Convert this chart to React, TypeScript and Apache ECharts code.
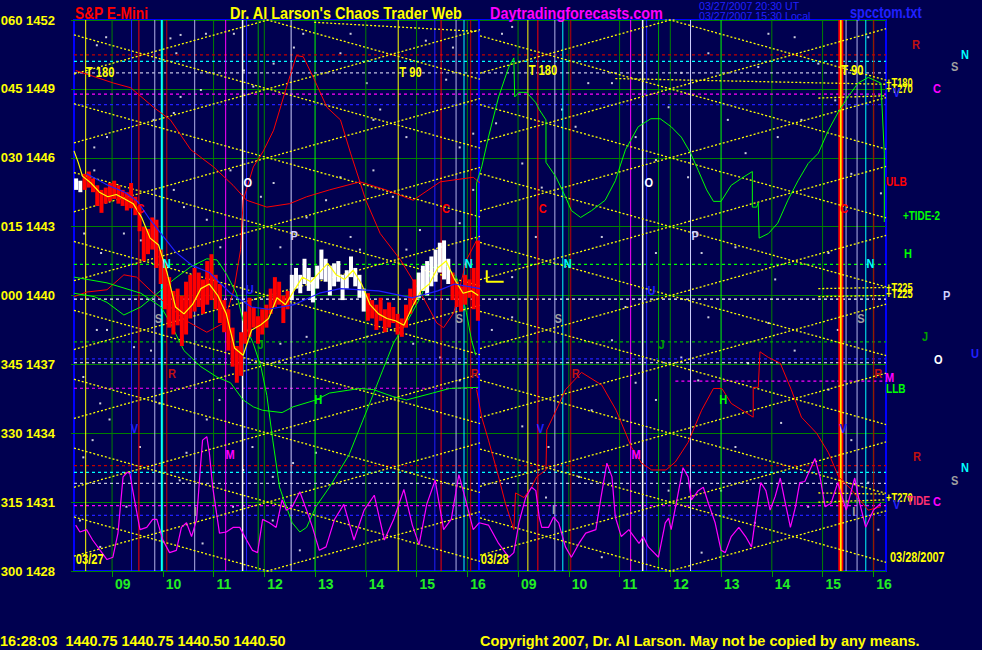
import React, { useEffect, useRef } from 'react';
import * as echarts from 'echarts';

const BG = '#000050';
const FONT = '"Liberation Sans", Arial, sans-serif';

// x axis: session minutes (03/27 08:15 = 0 ... 03/28 16:15 = 960)
const hourTicks = [45, 105, 165, 225, 285, 345, 405, 465, 525, 585, 645, 705, 765, 825, 885, 945];
const hourLabels = ['09', '10', '11', '12', '13', '14', '15', '16', '09', '10', '11', '12', '13', '14', '15', '16'];
const brightHours = [285, 765];
const priceTicks = [1428, 1431, 1434, 1437, 1440, 1443, 1446, 1449, 1452];
const angleLabels = ['300', '315', '330', '345', '000', '015', '030', '045', '060'];

// 5-minute price bars, 03/27
const barLows = [1444.6, 1444.5, 1444.6, 1444.7, 1444.5, 1443.9, 1443.6, 1444.0, 1444.1, 1444.2, 1444.0, 1443.9, 1443.7, 1443.8, 1443.5, 1442.8, 1441.5, 1441.8, 1442.0, 1441.2, 1440.5, 1439.4, 1438.6, 1438.3, 1438.7, 1437.8, 1438.3, 1439.0, 1439.3, 1439.5, 1439.2, 1439.6, 1439.8, 1439.4, 1438.8, 1438.4, 1437.6, 1436.9, 1436.2, 1436.5, 1437.9, 1438.2, 1438.6, 1437.9, 1438.3, 1438.6, 1439.2, 1439.5, 1439.6, 1438.8, 1439.4, 1439.8, 1440.3, 1440.1, 1440.5, 1440.2, 1439.7, 1440.3, 1440.7, 1440.6, 1440.0, 1440.4, 1440.6, 1439.8, 1440.3, 1440.8, 1440.4, 1439.9, 1439.3, 1438.9, 1439.0, 1438.5, 1438.9, 1438.4, 1438.6, 1438.8, 1438.3, 1438.2, 1438.6, 1439.2, 1439.6, 1439.9, 1440.2, 1440.0, 1440.4, 1440.6, 1441.0, 1440.7, 1440.5, 1439.8, 1439.5, 1439.3, 1439.6, 1439.9, 1439.4, 1438.9];
const barHighs = [1445.1, 1445.0, 1445.3, 1445.4, 1445.1, 1444.8, 1444.6, 1444.7, 1444.9, 1445.0, 1444.8, 1444.6, 1444.5, 1444.9, 1444.3, 1443.9, 1443.0, 1442.9, 1443.4, 1443.3, 1442.0, 1441.5, 1440.8, 1440.2, 1440.3, 1440.0, 1440.6, 1440.9, 1441.2, 1441.0, 1440.7, 1441.5, 1441.8, 1440.9, 1440.5, 1439.8, 1439.4, 1438.6, 1437.8, 1438.4, 1439.3, 1439.9, 1439.5, 1439.1, 1439.4, 1439.6, 1440.3, 1440.8, 1440.6, 1440.0, 1440.2, 1440.9, 1441.2, 1440.9, 1441.6, 1441.2, 1440.8, 1441.3, 1442.0, 1441.6, 1441.3, 1441.4, 1441.5, 1440.9, 1441.1, 1441.7, 1441.2, 1440.9, 1440.3, 1440.1, 1439.8, 1439.6, 1439.9, 1439.4, 1439.7, 1439.5, 1439.2, 1439.0, 1439.6, 1440.3, 1440.7, 1441.0, 1441.3, 1441.5, 1441.7, 1442.0, 1442.3, 1442.4, 1441.6, 1441.0, 1440.6, 1440.4, 1440.9, 1440.7, 1441.2, 1442.4];
const barColorRuns: [string, number][] = [['W', 2], ['R', 49], ['W', 18], ['R', 12], ['W', 8], ['R', 7]];

const yellowAvg = [[0, 1446.3], [5, 1445.8], [10, 1445.2], [20, 1444.9], [30, 1444.5], [40, 1444.3], [50, 1444.4], [60, 1444.2], [70, 1444.0], [80, 1443.4], [90, 1442.5], [100, 1442.2], [110, 1441.0], [120, 1439.5], [130, 1439.2], [140, 1439.6], [150, 1440.3], [160, 1440.5], [170, 1440.0], [180, 1439.2], [190, 1437.7], [200, 1437.4], [210, 1438.5], [220, 1438.7], [230, 1439.0], [240, 1439.9], [250, 1439.6], [260, 1440.2], [270, 1440.8], [280, 1440.6], [290, 1441.0], [300, 1441.4], [310, 1440.9], [320, 1440.7], [330, 1441.1], [340, 1440.5], [350, 1439.6], [360, 1439.2], [370, 1439.0], [380, 1438.9], [390, 1438.7], [400, 1439.5], [410, 1440.2], [420, 1440.5], [430, 1441.2], [440, 1441.5], [450, 1440.7], [460, 1440.1], [470, 1440.2], [478, 1440.0]];
const blueAvg = [[15, 1445.3], [40, 1444.8], [60, 1444.5], [75, 1444.1], [90, 1443.3], [105, 1442.6], [120, 1441.9], [140, 1441.3], [160, 1441.0], [185, 1440.1], [210, 1439.5], [230, 1439.4], [260, 1439.6], [290, 1440.1], [315, 1440.3], [360, 1440.2], [400, 1439.9], [430, 1440.2], [450, 1440.5], [480, 1440.3]];

const redA = [[2, 1449.8], [47, 1449.25], [67, 1449.05], [94, 1448.2], [114, 1447.65], [138, 1446.35], [165, 1445.6], [188, 1444.8], [204, 1444.15], [228, 1443.85], [255, 1444.0], [275, 1444.3], [302, 1444.6], [338, 1444.95], [369, 1444.6], [401, 1444.15], [433, 1444.95], [472, 1445.15], [480, 1444.9]];
const redB = [[0, 1439.95], [15, 1440.15], [39, 1440.25], [59, 1440.9], [74, 1440.8], [94, 1440.1], [114, 1439.5], [130, 1438.95], [157, 1438.4], [177, 1438.8], [189, 1440.25], [197, 1442.0], [200, 1444.15], [212, 1445.6], [224, 1446.3], [236, 1447.2], [251, 1449.05], [263, 1450.45], [271, 1450.4], [283, 1449.5], [299, 1448.2], [315, 1447.65], [327, 1446.2], [345, 1444.15], [362, 1442.7], [386, 1441.55], [410, 1440.1], [429, 1438.8], [437, 1438.6], [449, 1439.25], [464, 1441.55], [478, 1442.55]];
const redC = [[476, 1435.9], [482, 1434.7], [490, 1433.7], [502, 1432.1], [510, 1430.95], [520, 1429.8], [522, 1431.4], [532, 1431.2], [541, 1431.65], [547, 1432.1], [558, 1432.4], [559, 1434.15], [570, 1435.0], [581, 1435.9], [600, 1436.65], [624, 1436.1], [641, 1435.0], [659, 1433.4], [671, 1432.7], [683, 1432.4], [700, 1432.4], [711, 1432.75], [726, 1433.6], [742, 1435.0], [756, 1435.95], [766, 1435.95], [777, 1435.3], [803, 1434.7], [803, 1436.0], [809, 1436.0], [811, 1437.55], [821, 1437.3], [835, 1437.05], [848, 1435.9], [860, 1434.7], [878, 1434.0], [892, 1433.15], [904, 1432.1], [919, 1431.55], [939, 1430.65], [954, 1430.8]];

const greenA = [[0, 1440.8], [39, 1440.55], [79, 1440.1], [103, 1439.5], [114, 1438.8], [130, 1437.6], [150, 1436.9], [169, 1436.45], [185, 1436.2], [200, 1435.45], [212, 1435.15], [223, 1435.0], [246, 1434.9], [259, 1435.15], [286, 1435.45], [302, 1435.75], [338, 1435.95], [354, 1435.9], [377, 1435.6], [393, 1435.45], [424, 1435.75], [444, 1435.95], [478, 1436.0]];
const greenB = [[0, 1440.1], [24, 1439.95], [39, 1439.7], [59, 1439.15], [79, 1439.5], [94, 1439.95], [118, 1440.7], [138, 1441.25], [157, 1441.6], [169, 1441.55], [180, 1440.95], [192, 1440.1], [200, 1438.9], [212, 1437.9], [221, 1436.9], [228, 1435.65], [235, 1433.7], [243, 1431.65], [251, 1430.8], [258, 1430.1], [267, 1429.7], [275, 1429.9], [286, 1430.8], [302, 1431.65], [325, 1433.05], [349, 1435.25], [365, 1436.75], [378, 1437.95], [393, 1438.8], [410, 1439.95], [424, 1441.2], [436, 1441.45], [452, 1440.8], [459, 1439.95], [464, 1439.25], [470, 1438.05], [475, 1437.4]];
const greenC = [[476, 1439.8], [476, 1444.9], [482, 1445.6], [490, 1446.9], [502, 1448.65], [514, 1449.95], [520, 1450.35], [521, 1448.65], [526, 1448.85], [535, 1448.85], [546, 1448.4], [550, 1448.1], [558, 1447.65], [558, 1445.8], [570, 1445.15], [581, 1444.3], [588, 1443.7], [599, 1443.4], [612, 1443.7], [628, 1444.15], [640, 1445.0], [652, 1446.35], [667, 1447.35], [682, 1447.7], [693, 1447.7], [706, 1447.35], [718, 1446.9], [729, 1446.2], [738, 1445.45], [748, 1444.6], [756, 1444.1], [765, 1444.1], [777, 1444.8], [789, 1445.1], [802, 1445.4], [802, 1443.85], [807, 1443.85], [809, 1444.05], [810, 1442.5], [821, 1442.7], [832, 1443.15], [844, 1444.15], [856, 1445.0], [868, 1445.75], [880, 1446.2], [892, 1447.2], [903, 1447.95], [915, 1448.65], [927, 1449.25], [939, 1449.5], [954, 1449.25], [958, 1446.2], [958, 1443.2]];

const magentaA = [[2, 1430.0], [7, 1429.7], [15, 1429.8], [22, 1429.35], [31, 1428.9], [39, 1428.5], [46, 1428.6], [52, 1429.65], [58, 1432.1], [63, 1432.3], [66, 1432.25], [70, 1431.4], [78, 1429.8], [86, 1429.9], [93, 1430.25], [98, 1430.25], [105, 1429.35], [113, 1428.8], [121, 1428.9], [127, 1429.9], [133, 1430.1], [139, 1429.5], [145, 1430.25], [149, 1432.3], [152, 1433.7], [157, 1433.85], [160, 1433.15], [164, 1431.65], [172, 1429.65], [180, 1429.7], [188, 1429.9], [196, 1429.9], [204, 1429.35], [211, 1428.9], [217, 1428.8], [223, 1430.25], [231, 1430.1], [239, 1429.9], [246, 1431.1], [251, 1430.65], [258, 1430.8], [267, 1431.45], [275, 1430.65], [282, 1429.9], [290, 1428.9], [298, 1429.05], [308, 1430.25], [319, 1430.9], [331, 1429.35], [343, 1430.65], [355, 1431.3], [367, 1429.35], [378, 1430.25], [390, 1431.55], [400, 1430.0], [408, 1429.15], [417, 1430.9], [427, 1431.95], [437, 1429.8], [446, 1430.25], [455, 1432.2], [463, 1431.1], [472, 1429.8], [479, 1430.1]];
const magentaB = [[479, 1430.1], [490, 1430.0], [502, 1429.2], [514, 1428.6], [520, 1428.8], [526, 1430.1], [534, 1431.2], [541, 1431.65], [546, 1431.5], [550, 1430.35], [553, 1429.9], [561, 1429.9], [567, 1430.35], [573, 1430.1], [581, 1429.05], [588, 1428.6], [597, 1429.2], [605, 1429.65], [617, 1429.8], [623, 1431.2], [630, 1432.7], [636, 1432.1], [640, 1430.35], [647, 1429.5], [656, 1429.8], [659, 1429.65], [668, 1429.2], [673, 1429.5], [679, 1429.05], [691, 1428.6], [699, 1430.1], [703, 1430.3], [706, 1429.8], [712, 1430.95], [720, 1432.5], [726, 1432.1], [730, 1431.1], [738, 1431.5], [744, 1431.65], [750, 1430.95], [758, 1430.1], [765, 1428.9], [770, 1428.8], [777, 1429.5], [786, 1429.9], [794, 1429.5], [801, 1429.05], [807, 1430.65], [812, 1431.85], [818, 1431.5], [823, 1430.65], [829, 1431.25], [835, 1432.05], [841, 1430.95], [847, 1429.9], [853, 1430.8], [858, 1431.85], [864, 1431.9], [870, 1432.4], [876, 1432.9], [882, 1432.1], [888, 1430.8], [895, 1430.95], [903, 1431.85], [913, 1430.65], [923, 1432.05], [929, 1430.95], [936, 1429.9], [945, 1430.65], [954, 1430.95]];

// event lines: [minute, colour, width]
const eventLines: [number, string, number][] = [
  [13.8, '#ffff00', 1], [68, '#2020ff', 1], [76.7, '#ff0000', 1], [95.5, '#b0b0e8', 1], [103.8, '#00ffff', 2], [109.7, '#c00000', 1],
  [142.7, '#b0b0e8', 1], [179.3, '#ff00ff', 1], [199.3, '#ffffff', 1.5], [204, '#2020ff', 1], [217.8, '#00a000', 1], [256.7, '#d0d0ff', 1],
  [383.3, '#ffff00', 1], [426.6, '#2020ff', 1], [434, '#ff0000', 1], [451.7, '#b0b0e8', 1], [461.1, '#00ffff', 1], [469, '#c00000', 1],
  [478.8, '#0000ff', 2],
  [536.6, '#ffff00', 1], [548.4, '#ff0000', 1], [568.5, '#b0b0e8', 1], [577.9, '#00ffff', 1], [587.3, '#c00000', 1], [658.1, '#ff00ff', 1],
  [672.3, '#ffffff', 1.5], [677, '#2020ff', 1], [691.1, '#00a000', 1], [728.9, '#d0d0ff', 1], [906.6, '#ff0000', 5], [906.6, '#ffff00', 1.5],
  [912.8, '#b0b0e8', 1], [925.8, '#b0b0e8', 1], [936.1, '#00ffff', 1], [945.5, '#c00000', 1]
];

// horizontal level lines: [price, colour, from, to]
const levelLines: [number, string, number, number][] = [
  [1450.48, '#c00000', 0, 960], [1450.2, '#00ffff', 0, 960], [1449.7, '#c0c0e0', 0, 960], [1448.77, '#ff00ff', 0, 960],
  [1448.31, '#2020ff', 0, 960], [1441.36, '#00ff00', 0, 960], [1439.84, '#ffffff', 0, 960], [1437.98, '#00b000', 0, 960],
  [1437.24, '#2020ff', 0, 960], [1437.07, '#ffffff', 0, 960], [1435.96, '#ff00ff', 0, 480], [1436.27, '#ff00ff', 711, 960],
  [1432.59, '#c00000', 0, 960], [1432.3, '#00ffff', 0, 960], [1431.82, '#c0c0e0', 0, 960], [1430.85, '#ff00ff', 0, 960],
  [1430.42, '#2020ff', 0, 960]
];

// time/price lattice (crossing at the grid prices at each day's centre)
const latticeCenters = [229, 705];
const latticeSpans = [[0, 480], [480, 960]];
const latticeAnchors = [1428, 1431, 1434, 1437, 1440, 1443, 1446, 1449, 1452];
const latticeSlope = 1.5 / 146;
const flatSegments = [
  [[284, 1451.9], [478, 1451.5]], [[640, 1449.45], [960, 1449.2]], [[880, 1448.6], [960, 1448.7]],
  [[880, 1440.3], [960, 1440.35]], [[880, 1439.95], [960, 1440.0]], [[880, 1431.4], [960, 1431.35]], [[880, 1431.0], [960, 1431.1]]
];
const lMarker = [[488, 1441.1], [488, 1440.6], [508, 1440.6]];

const plotLabels: [number, number, string, string][] = [
  [14, 1449.73, 'T 180', '#ffff00'], [384.5, 1449.73, 'T 90', '#ffff00'], [74, 1443.8, 'C', '#ff0000'], [105, 1441.4, 'N', '#00ffff'],
  [95.5, 1439.0, 'S', '#a0a0a0'], [200.5, 1444.9, 'O', '#ffffff'], [256, 1442.6, 'P', '#d0d0ff'], [203, 1440.25, 'U', '#2020ff'],
  [111, 1436.6, 'R', '#c01010'], [67, 1434.2, 'V', '#2020ff'], [179, 1433.05, 'M', '#ff00ff'], [284, 1435.45, 'H', '#00ff00'],
  [217, 1437.85, 'J', '#00a000'], [141.5, 1430.6, 'I', '#a0a0a0'], [435, 1443.8, 'C', '#ff0000'], [462, 1441.4, 'N', '#00ffff'],
  [451, 1439.0, 'S', '#a0a0a0'], [469, 1436.6, 'R', '#c01010'], [2, 1428.5, '03/27', '#ffff00'],
  [537.5, 1449.8, 'T 180', '#ffff00'], [907, 1449.8, 'T 90', '#ffff00'], [549.5, 1443.8, 'C', '#ff0000'], [579, 1441.4, 'N', '#00ffff'],
  [568, 1439.0, 'S', '#a0a0a0'], [674.6, 1444.9, 'O', '#ffffff'], [730, 1442.6, 'P', '#d0d0ff'], [678, 1440.2, 'U', '#2020ff'],
  [691, 1437.85, 'J', '#00a000'], [588.5, 1436.6, 'R', '#c01010'], [547, 1434.2, 'V', '#2020ff'], [659, 1433.05, 'M', '#ff00ff'],
  [763, 1435.45, 'H', '#00ff00'], [565, 1430.65, 'I', '#a0a0a0'], [906, 1443.8, 'C', '#ff0000'], [937, 1441.4, 'N', '#00ffff'],
  [926, 1439.0, 'S', '#a0a0a0'], [946, 1436.6, 'R', '#c01010'], [905, 1434.2, 'V', '#2020ff'], [920, 1430.6, 'I', '#a0a0a0'],
  [481, 1428.5, '03/28', '#ffff00']
];

const stars = [
  [27, 1450.9], [38, 1451.25], [114, 1451.2], [126, 1451.35], [121, 1450.55], [156, 1451.4], [150, 1448.95], [126, 1448.65], [118, 1447.95], [94, 1447.65],
  [39, 1446.9], [24, 1446.45], [189, 1451.4], [201, 1449.8], [212, 1449.1], [236, 1450.1], [260, 1450.8], [271, 1451.4], [315, 1450.55], [327, 1451.4],
  [346, 1449.25], [354, 1447.65], [362, 1448.1], [393, 1446.9], [409, 1449.8], [416, 1451.1], [440, 1449.4], [448, 1450.8], [456, 1446.45], [472, 1447.05],
  [24, 1445.45], [12, 1442.7], [32, 1441.85], [59, 1442.7], [79, 1442.4], [118, 1444.6], [130, 1443.85], [157, 1443.3], [173, 1442.1], [185, 1445.45],
  [221, 1444.3], [236, 1444.9], [244, 1442.1], [275, 1443.4], [298, 1444.15], [315, 1445.15], [327, 1442.55], [338, 1442.0], [354, 1445.45], [377, 1444.3],
  [393, 1442.0], [409, 1442.85], [456, 1443.15], [472, 1444.6], [39, 1438.5], [71, 1437.75], [91, 1437.6], [244, 1437.9], [275, 1438.2], [315, 1437.05],
  [346, 1438.2], [386, 1437.05], [401, 1437.9], [433, 1437.3], [456, 1436.3], [27, 1438.5], [11, 1436.45], [31, 1435.3], [42, 1434.6], [22, 1433.7],
  [11, 1432.95], [7, 1430.2], [31, 1429.05], [62, 1430.8], [78, 1433.4], [101, 1435.3], [125, 1431.95], [133, 1433.15], [157, 1434.6], [172, 1435.45],
  [152, 1429.2], [188, 1430.8], [200, 1432.4], [211, 1433.4], [235, 1432.1], [259, 1432.7], [235, 1430.2], [267, 1428.9], [286, 1433.15],
  [506, 1451.4], [518, 1451.7], [499, 1447.5], [530, 1445.75], [553, 1444.7], [577, 1448.1], [593, 1447.35], [608, 1449.25], [636, 1449.25], [664, 1446.9],
  [688, 1445.9], [703, 1448.2], [718, 1449.7], [726, 1445.15], [750, 1450.55], [773, 1447.65], [794, 1446.2], [809, 1449.95], [821, 1451.4], [832, 1446.9],
  [852, 1451.25], [860, 1447.65], [880, 1450.1], [900, 1448.5], [919, 1445.3], [939, 1451.25], [954, 1444.45], [624, 1442.55], [688, 1441.85], [742, 1441.85],
  [782, 1442.1], [829, 1440.7], [892, 1441.85], [518, 1440.8], [546, 1442.55], [494, 1438.5], [518, 1439.05], [530, 1434.3], [561, 1433.4], [558, 1431.2],
  [597, 1432.1], [612, 1435.0], [636, 1438.05], [652, 1439.5], [664, 1436.2], [688, 1435.45], [703, 1431.5], [718, 1437.3], [738, 1436.3], [750, 1439.05],
  [765, 1431.5], [782, 1433.4], [797, 1437.05], [805, 1430.1], [821, 1438.8], [836, 1434.45], [852, 1437.6], [868, 1430.8], [892, 1435.9], [903, 1438.5],
  [919, 1433.7], [939, 1431.85], [951, 1429.8], [742, 1428.8], [624, 1428.6]
];

// [text, x, y, colour, font size, weight, horizontal squeeze]
const outsideTexts: [string, number, number, string, number, string, number][] = [
  ['S&P E-Mini', 75, 13, '#ff0000', 16, 'bold', 0.86], ["Dr. Al Larson's Chaos Trader Web", 230, 13, '#ffff00', 16, 'bold', 0.905],
  ['Daytradingforecasts.com', 490, 13, '#ff00ff', 16, 'bold', 0.9], ['03/27/2007 20:30 UT', 699, 6, '#2020ff', 11, 'normal', 0.97],
  ['03/27/2007 15:30 Local', 699, 16, '#2020ff', 11, 'normal', 0.97], ['spcctom.txt', 850, 12, '#2020ff', 16, 'bold', 0.8],
  ['R', 912, 45, '#c01010', 13, 'bold', 0.85], ['N', 961, 55, '#00ffff', 13, 'bold', 0.85], ['S', 951, 67, '#a0a0a0', 13, 'bold', 0.85],
  ['+T180', 886, 82, '#ffff00', 13, 'bold', 0.72], ['+T270', 886, 88, '#ffff00', 13, 'bold', 0.72], ['V', 893, 93, '#2020ff', 13, 'bold', 0.85],
  ['C', 933, 89, '#ff00ff', 13, 'bold', 0.85], ['ULB', 886, 181, '#ff0000', 13, 'bold', 0.78],
  ['+TIDE-2', 903, 215, '#00ff00', 13, 'bold', 0.76], ['H', 904, 254, '#00ff00', 13, 'bold', 0.85], ['+T225', 886, 287, '#ffff00', 13, 'bold', 0.72],
  ['+T225', 886, 293, '#ffff00', 13, 'bold', 0.72], ['P', 943, 296, '#d0d0ff', 13, 'bold', 0.85], ['J', 922, 337, '#00a000', 13, 'bold', 0.85],
  ['O', 934, 360, '#ffffff', 13, 'bold', 0.85], ['U', 971, 354, '#2020ff', 13, 'bold', 0.85], ['M', 885, 378, '#ff00ff', 13, 'bold', 0.85],
  ['LLB', 886, 388, '#00ff00', 13, 'bold', 0.78], ['R', 913, 457, '#c01010', 13, 'bold', 0.85], ['N', 961, 468, '#00ffff', 13, 'bold', 0.85],
  ['S', 951, 481, '#a0a0a0', 13, 'bold', 0.85], ['+T270', 886, 497, '#ffff00', 13, 'bold', 0.72], ['TIDE', 907, 500, '#ff3070', 13, 'bold', 0.78],
  ['C', 933, 502, '#ff00ff', 13, 'bold', 0.85], ['V', 893, 505, '#2020ff', 13, 'bold', 0.85], ['03/28/2007', 890, 558, '#ffff00', 14, 'bold', 0.78],
  ['16:28:03  1440.75 1440.75 1440.50 1440.50', 0, 641, '#ffff00', 15, 'bold', 0.96],
  ['Copyright 2007, Dr. Al Larson. May not be copied by any means.', 480, 641, '#ffff00', 15, 'bold', 0.965]
];

function lineSeries(data: any[], color: string, width: number, type: any = 'solid'): any {
  return {
    type: 'line', data, showSymbol: false, symbol: 'none', silent: true, clip: true,
    lineStyle: { color, width, type }, z: 2
  };
}

export default function App() {
  const ref = useRef<HTMLDivElement>(null);
  useEffect(() => {
    if (!ref.current) return;
    const chart = echarts.init(ref.current, null, { renderer: 'svg' });
    const series: any[] = [];

    series.push({
      type: 'scatter', data: stars, symbol: 'rect', symbolSize: 2, silent: true,
      itemStyle: { color: '#ffffff' }, z: 1
    });
    hourTicks.forEach((h) => {
      series.push(lineSeries([[h, 1428], [h, 1452]], brightHours.includes(h) ? '#00ff00' : '#008000', 1));
    });
    levelLines.forEach(([p, c, a, b]) => {
      series.push(lineSeries([[a, p], [b, p]], c, 1.2, [3, 3]));
    });
    eventLines.forEach(([m, c, w]) => {
      series.push(lineSeries([[m, 1428], [m, 1452]], c, w));
    });
    latticeCenters.forEach((cen, d) => {
      const [s, e] = latticeSpans[d];
      latticeAnchors.forEach((a) => {
        series.push(lineSeries([[s, a + latticeSlope * (s - cen)], [e, a + latticeSlope * (e - cen)]], '#ffff00', 1.3, [2, 2]));
        series.push(lineSeries([[s, a - latticeSlope * (s - cen)], [e, a - latticeSlope * (e - cen)]], '#ffff00', 1.3, [2, 2]));
      });
    });
    flatSegments.forEach((seg) => series.push(lineSeries(seg, '#ffff00', 1.3, [2, 2])));

    series.push(lineSeries(redA, '#ff0000', 1));
    series.push(lineSeries(redB, '#ff0000', 1));
    series.push(lineSeries(redC, '#ff0000', 1));
    series.push(lineSeries(greenA, '#00ff00', 1));
    series.push(lineSeries(greenB, '#00ff00', 1));
    series.push(lineSeries(greenC, '#00ff00', 1));
    series.push(lineSeries(magentaA, '#ff00ff', 1.2));
    series.push(lineSeries(magentaB, '#ff00ff', 1.2));

    const colors: string[] = [];
    barColorRuns.forEach(([c, n]) => { for (let i = 0; i < n; i++) colors.push(c); });
    const bars = barLows.map((lo, i) => [i * 5 + 2.5, lo, barHighs[i], colors[i] === 'W' ? 1 : 0]);
    series.push({
      type: 'custom', data: bars, silent: true, clip: true, z: 3,
      encode: { x: 0, y: [1, 2] },
      renderItem: (params: any, api: any) => {
        const x = api.value(0);
        const lo = api.coord([x, api.value(1)]);
        const hi = api.coord([x, api.value(2)]);
        return {
          type: 'rect',
          shape: { x: lo[0] - 2, y: hi[1], width: 4, height: Math.max(1, lo[1] - hi[1]) },
          style: { fill: api.value(3) ? '#ffffff' : '#ff0000' }
        };
      }
    });
    series.push({ ...lineSeries(yellowAvg, '#ffff00', 1.2), z: 4 });
    series.push({ ...lineSeries(blueAvg, '#2020ff', 1.2), z: 4 });
    series.push({ ...lineSeries(lMarker, '#ffff00', 2), z: 4 });

    series.push({
      type: 'custom', silent: true, z: 5, clip: false,
      data: plotLabels.map(([m, p]) => [m, p]),
      encode: { x: 0, y: 1 },
      renderItem: (params: any, api: any) => {
        const pt = api.coord([api.value(0), api.value(1)]);
        const item = plotLabels[params.dataIndex];
        const long = item[2].length > 1;
        return {
          type: 'text', x: pt[0], y: pt[1], scaleX: long ? 0.8 : 0.85,
          style: {
            text: item[2], fill: item[3], font: `bold ${long ? 14 : 13}px ${FONT}`,
            verticalAlign: 'middle', align: 'left'
          }
        };
      }
    });

    const graphic = outsideTexts.map(([t, x, y, c, s, w, k]) => ({
      type: 'text', x, y, scaleX: k, silent: true, z: 10,
      style: { text: t, fill: c, font: `${w} ${s}px ${FONT}`, verticalAlign: 'middle', align: 'left' }
    }));

    chart.setOption({
      animation: false,
      backgroundColor: BG,
      grid: {
        left: 74, top: 20, right: 96, bottom: 79, show: true, borderColor: '#0000ff', borderWidth: 2,
        backgroundColor: 'transparent', containLabel: false, outerBoundsMode: 'none'
      },
      xAxis: {
        type: 'value', min: 0, max: 960,
        axisLine: { show: false },
        splitLine: { show: false },
        axisTick: { show: true, customValues: hourTicks, length: 6, lineStyle: { color: '#00a000' } },
        axisLabel: {
          customValues: hourTicks, color: '#22ee22', fontFamily: FONT, fontWeight: 'bold', fontSize: 14,
          align: 'left', padding: [0, 0, 0, 3], margin: 6,
          formatter: (v: number) => { const i = hourTicks.indexOf(Math.round(v)); return i >= 0 ? hourLabels[i] : ''; }
        }
      },
      yAxis: {
        type: 'value', min: 1428, max: 1452, interval: 3,
        axisLine: { show: false },
        axisTick: { show: true, length: 3, lineStyle: { color: '#008000' } },
        splitLine: { show: true, lineStyle: { color: '#008000', width: 1 } },
        axisLabel: {
          color: '#ffff00', fontFamily: FONT, fontWeight: 'bold', fontSize: 13, margin: 19, padding: [0, 0, 10, 0],
          formatter: (v: number) => { const i = priceTicks.indexOf(v); return (i >= 0 ? angleLabels[i] : '') + ' ' + v; }
        }
      },
      graphic,
      series
    });
    return () => chart.dispose();
  }, []);
  return (
    <div style={{ position: 'fixed', left: 0, top: 0, width: 982, height: 650, background: BG }}>
      <div ref={ref} style={{ width: 982, height: 650 }} />
    </div>
  );
}
